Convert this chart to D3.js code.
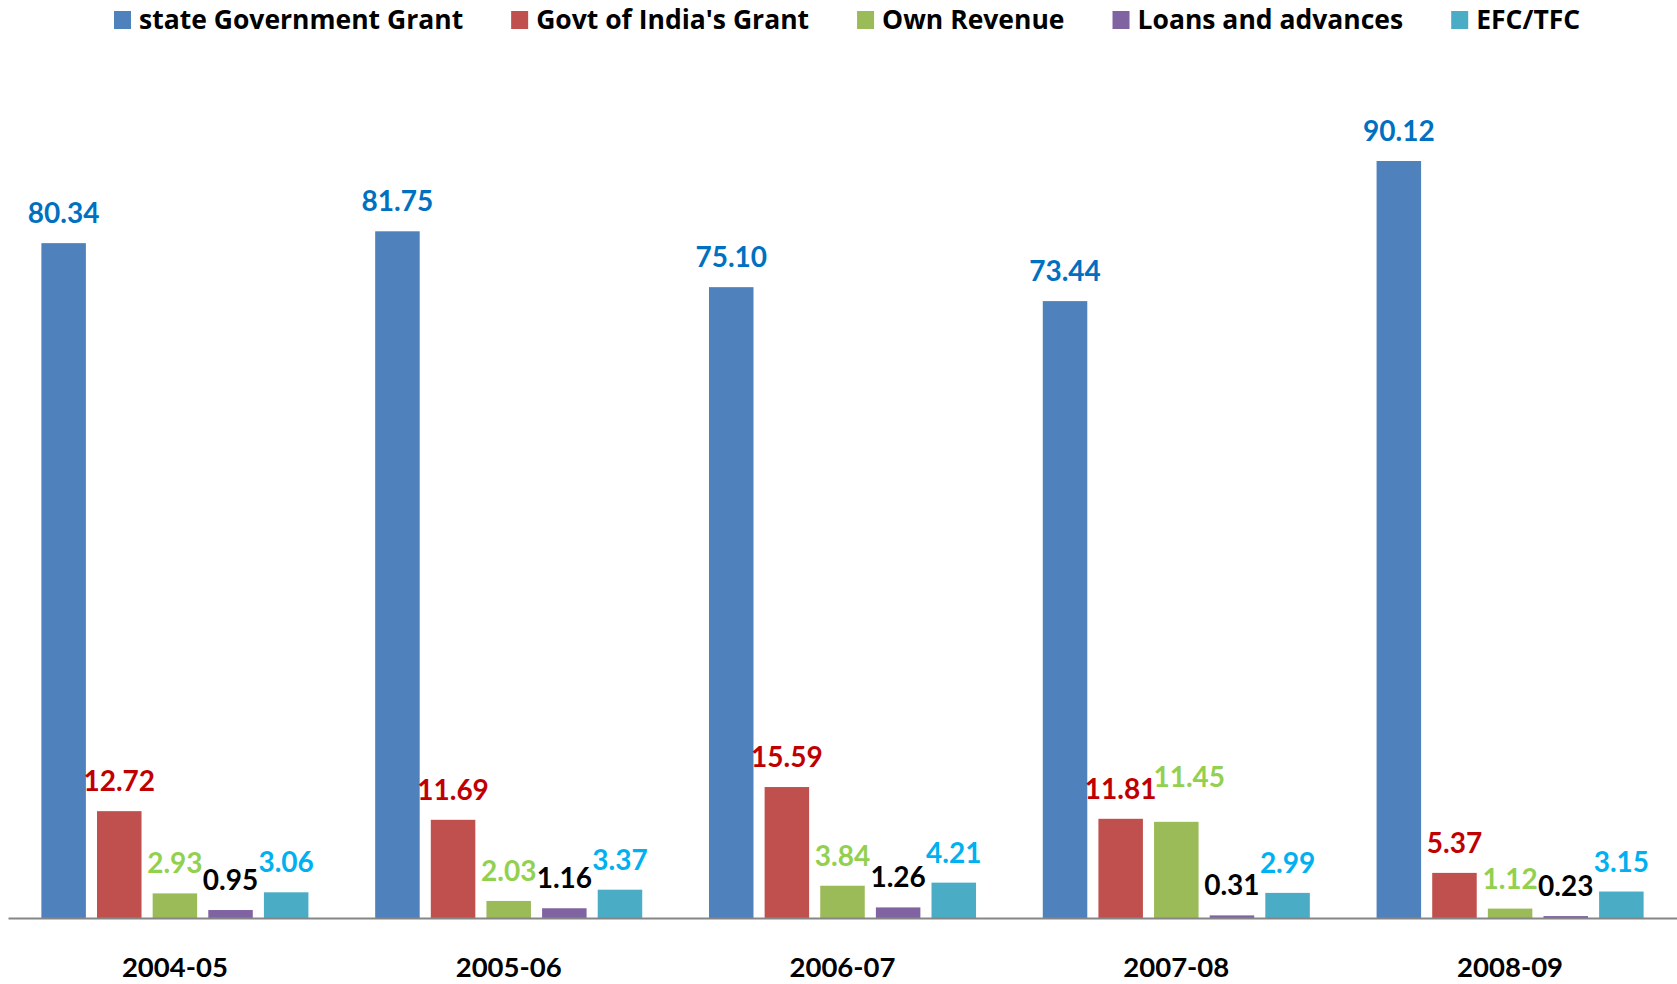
<!DOCTYPE html>
<html>
<head>
<meta charset="utf-8">
<script src="https://cdn.jsdelivr.net/npm/d3@7"></script>
<style>
  body { margin: 0; background: #fff; }
  svg { display: block; font-family: Lato, "Open Sans", sans-serif; font-weight: bold; }
</style>
</head>
<body>
<div id="chart"></div>
<script>
const years = ["2004-05", "2005-06", "2006-07", "2007-08", "2008-09"];
const seriesNames = ["state Government Grant", "Govt of India's Grant", "Own Revenue", "Loans and advances", "EFC/TFC"];
const stateGrant = [80.34, 81.75, 75.10, 73.44, 90.12];
const goiGrant = [12.72, 11.69, 15.59, 11.81, 5.37];
const ownRevenue = [2.93, 2.03, 3.84, 11.45, 1.12];
const loans = [0.95, 1.16, 1.26, 0.31, 0.23];
const efcTfc = [3.06, 3.37, 4.21, 2.99, 3.15];

const barColors = ["#4F81BD", "#C0504D", "#9BBB59", "#8064A2", "#4BACC6"];
const labelColors = ["#0070C0", "#C00000", "#92D050", "#000000", "#00B0F0"];

const allSeries = [stateGrant, goiGrant, ownRevenue, loans, efcTfc];

const width = 1677, height = 984;
const axisY = 918;

const svg = d3.select("#chart").append("svg")
  .attr("width", width)
  .attr("height", height);

const x0 = d3.scaleBand().domain(years).range([8, width]);
const x1 = d3.scaleBand().domain(seriesNames).range([0, x0.bandwidth()])
  .paddingInner(0.2).paddingOuter(0.6);
const y = d3.scaleLinear().domain([0, 100]).range([axisY, axisY - 840]);

// flatten to one record per bar
const bars = [];
years.forEach((yr, i) => {
  seriesNames.forEach((s, j) => {
    bars.push({year: yr, series: s, j: j, value: allSeries[j][i]});
  });
});

const groups = svg.append("g");
groups.selectAll("rect")
  .data(bars)
  .enter().append("rect")
  .attr("x", d => x0(d.year) + x1(d.series))
  .attr("y", d => y(d.value))
  .attr("width", x1.bandwidth())
  .attr("height", d => axisY - y(d.value))
  .attr("fill", d => barColors[d.j]);

// the Own Revenue label for 2007-08 was pushed up/right so it doesn't collide
const nudge = (d) => (d.year === "2007-08" && d.j === 2) ? [13, -15] : [0, 0];

groups.selectAll("text")
  .data(bars)
  .enter().append("text")
  .attr("x", d => x0(d.year) + x1(d.series) + x1.bandwidth() / 2 + nudge(d)[0])
  .attr("y", d => y(d.value) - 20 + nudge(d)[1])
  .attr("text-anchor", "middle")
  .attr("font-size", 28)
  .attr("fill", d => labelColors[d.j])
  .text(d => d.value.toFixed(2));

const xAxis = d3.axisBottom(x0).tickSize(0).tickSizeOuter(0);
const gx = svg.append("g")
  .attr("transform", `translate(0,${axisY})`)
  .call(xAxis);
gx.select(".domain").attr("stroke", "#868686").attr("stroke-width", 2);
gx.selectAll("text")
  .attr("y", 59)
  .attr("dy", 0)
  .attr("font-size", 27.5)
  .attr("font-family", "Lato, sans-serif")
  .attr("font-weight", "bold")
  .attr("fill", "#000");

// legend, laid out left to right
const legend = svg.append("g");
let lx = 114;
seriesNames.forEach((s, j) => {
  legend.append("rect")
    .attr("x", lx).attr("y", 11)
    .attr("width", 17).attr("height", 18)
    .attr("fill", barColors[j]);
  const t = legend.append("text")
    .attr("x", lx + 25).attr("y", 29)
    .attr("font-family", "'Open Sans', sans-serif")
    .attr("font-size", 26.5)
    .attr("fill", "#000")
    .text(s);
  lx += 25 + t.node().getComputedTextLength() + 48;
});
</script>
</body>
</html>
